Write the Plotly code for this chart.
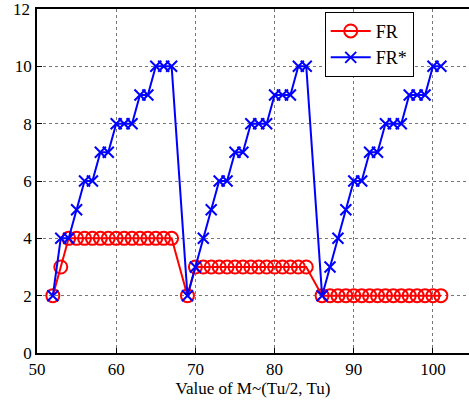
import plotly.graph_objects as go

m_values = [52, 53, 54, 55, 56, 57, 58, 59, 60, 61, 62, 63, 64, 65, 66, 67,
            69, 70, 71, 72, 73, 74, 75, 76, 77, 78, 79, 80, 81, 82, 83, 84,
            86, 87, 88, 89, 90, 91, 92, 93, 94, 95, 96, 97, 98, 99, 100, 101]
fr = [2, 3, 4, 4, 4, 4, 4, 4, 4, 4, 4, 4, 4, 4, 4, 4,
      2, 3, 3, 3, 3, 3, 3, 3, 3, 3, 3, 3, 3, 3, 3, 3,
      2, 2, 2, 2, 2, 2, 2, 2, 2, 2, 2, 2, 2, 2, 2, 2]
fr_star = [2, 4, 4, 5, 6, 6, 7, 7, 8, 8, 8, 9, 9, 10, 10, 10,
           2, 3, 4, 5, 6, 6, 7, 7, 8, 8, 8, 9, 9, 9, 10, 10,
           2, 3, 4, 5, 6, 6, 7, 7, 8, 8, 8, 9, 9, 9, 10, 10]
x_ticks = [50, 60, 70, 80, 90, 100]
y_ticks = [0, 2, 4, 6, 8, 10, 12]

font = "Liberation Serif, Times New Roman, serif"

fig = go.Figure()
fig.add_trace(go.Scatter(
    x=m_values, y=fr, name="FR", mode="lines+markers",
    line=dict(color="#ff0000", width=2),
    marker=dict(symbol="circle-open", size=13, color="#ff0000",
                line=dict(width=2, color="#ff0000")),
))
fig.add_trace(go.Scatter(
    x=m_values, y=fr_star, name="FR*", mode="lines+markers",
    line=dict(color="#0000ff", width=2),
    marker=dict(symbol="x-thin-open", size=11, color="#0000ff",
                line=dict(width=2, color="#0000ff")),
))

fig.update_layout(
    width=469, height=400,
    margin=dict(l=37, r=0, t=9, b=47),
    paper_bgcolor="white", plot_bgcolor="white",
    font=dict(family=font, size=17, color="black"),
    showlegend=True,
    legend=dict(
        x=0.666, y=0.992, xanchor="left", yanchor="top",
        bgcolor="white", bordercolor="black", borderwidth=1,
        font=dict(family=font, size=18),
        tracegroupgap=0, itemwidth=40,
    ),
    xaxis=dict(
        range=[50, 104.55], tickvals=x_ticks, ticktext=[str(v) for v in x_ticks],
        showline=True, linecolor="black", linewidth=1.5, mirror=True,
        ticks="inside", ticklen=5, tickcolor="black",
        showgrid=True, gridcolor="#777777", griddash="dot", gridwidth=1,
        zeroline=False,
        title=dict(text="Value of M~(Tu/2, Tu)", font=dict(family=font, size=17), standoff=2),
    ),
    yaxis=dict(
        range=[0, 12], tickvals=y_ticks[:-1], ticktext=[str(v) for v in y_ticks[:-1]],
        showline=True, linecolor="black", linewidth=1.5, mirror=False,
        ticks="inside", ticklen=5, tickcolor="black",
        showgrid=True, gridcolor="#777777", griddash="dot", gridwidth=1,
        zeroline=False,
    ),
)
# top tick label (plotly drops it at the very edge of the plot area)
fig.add_annotation(
    x=0, xref="paper", y=y_ticks[-1], yref="y",
    text=str(y_ticks[-1]), showarrow=False,
    xanchor="right", yanchor="middle", xshift=-5,
    font=dict(family=font, size=17, color="black"),
)

fig.write_html("out.html", config={"displayModeBar": False},
               post_script="document.body.style.margin='0';")
